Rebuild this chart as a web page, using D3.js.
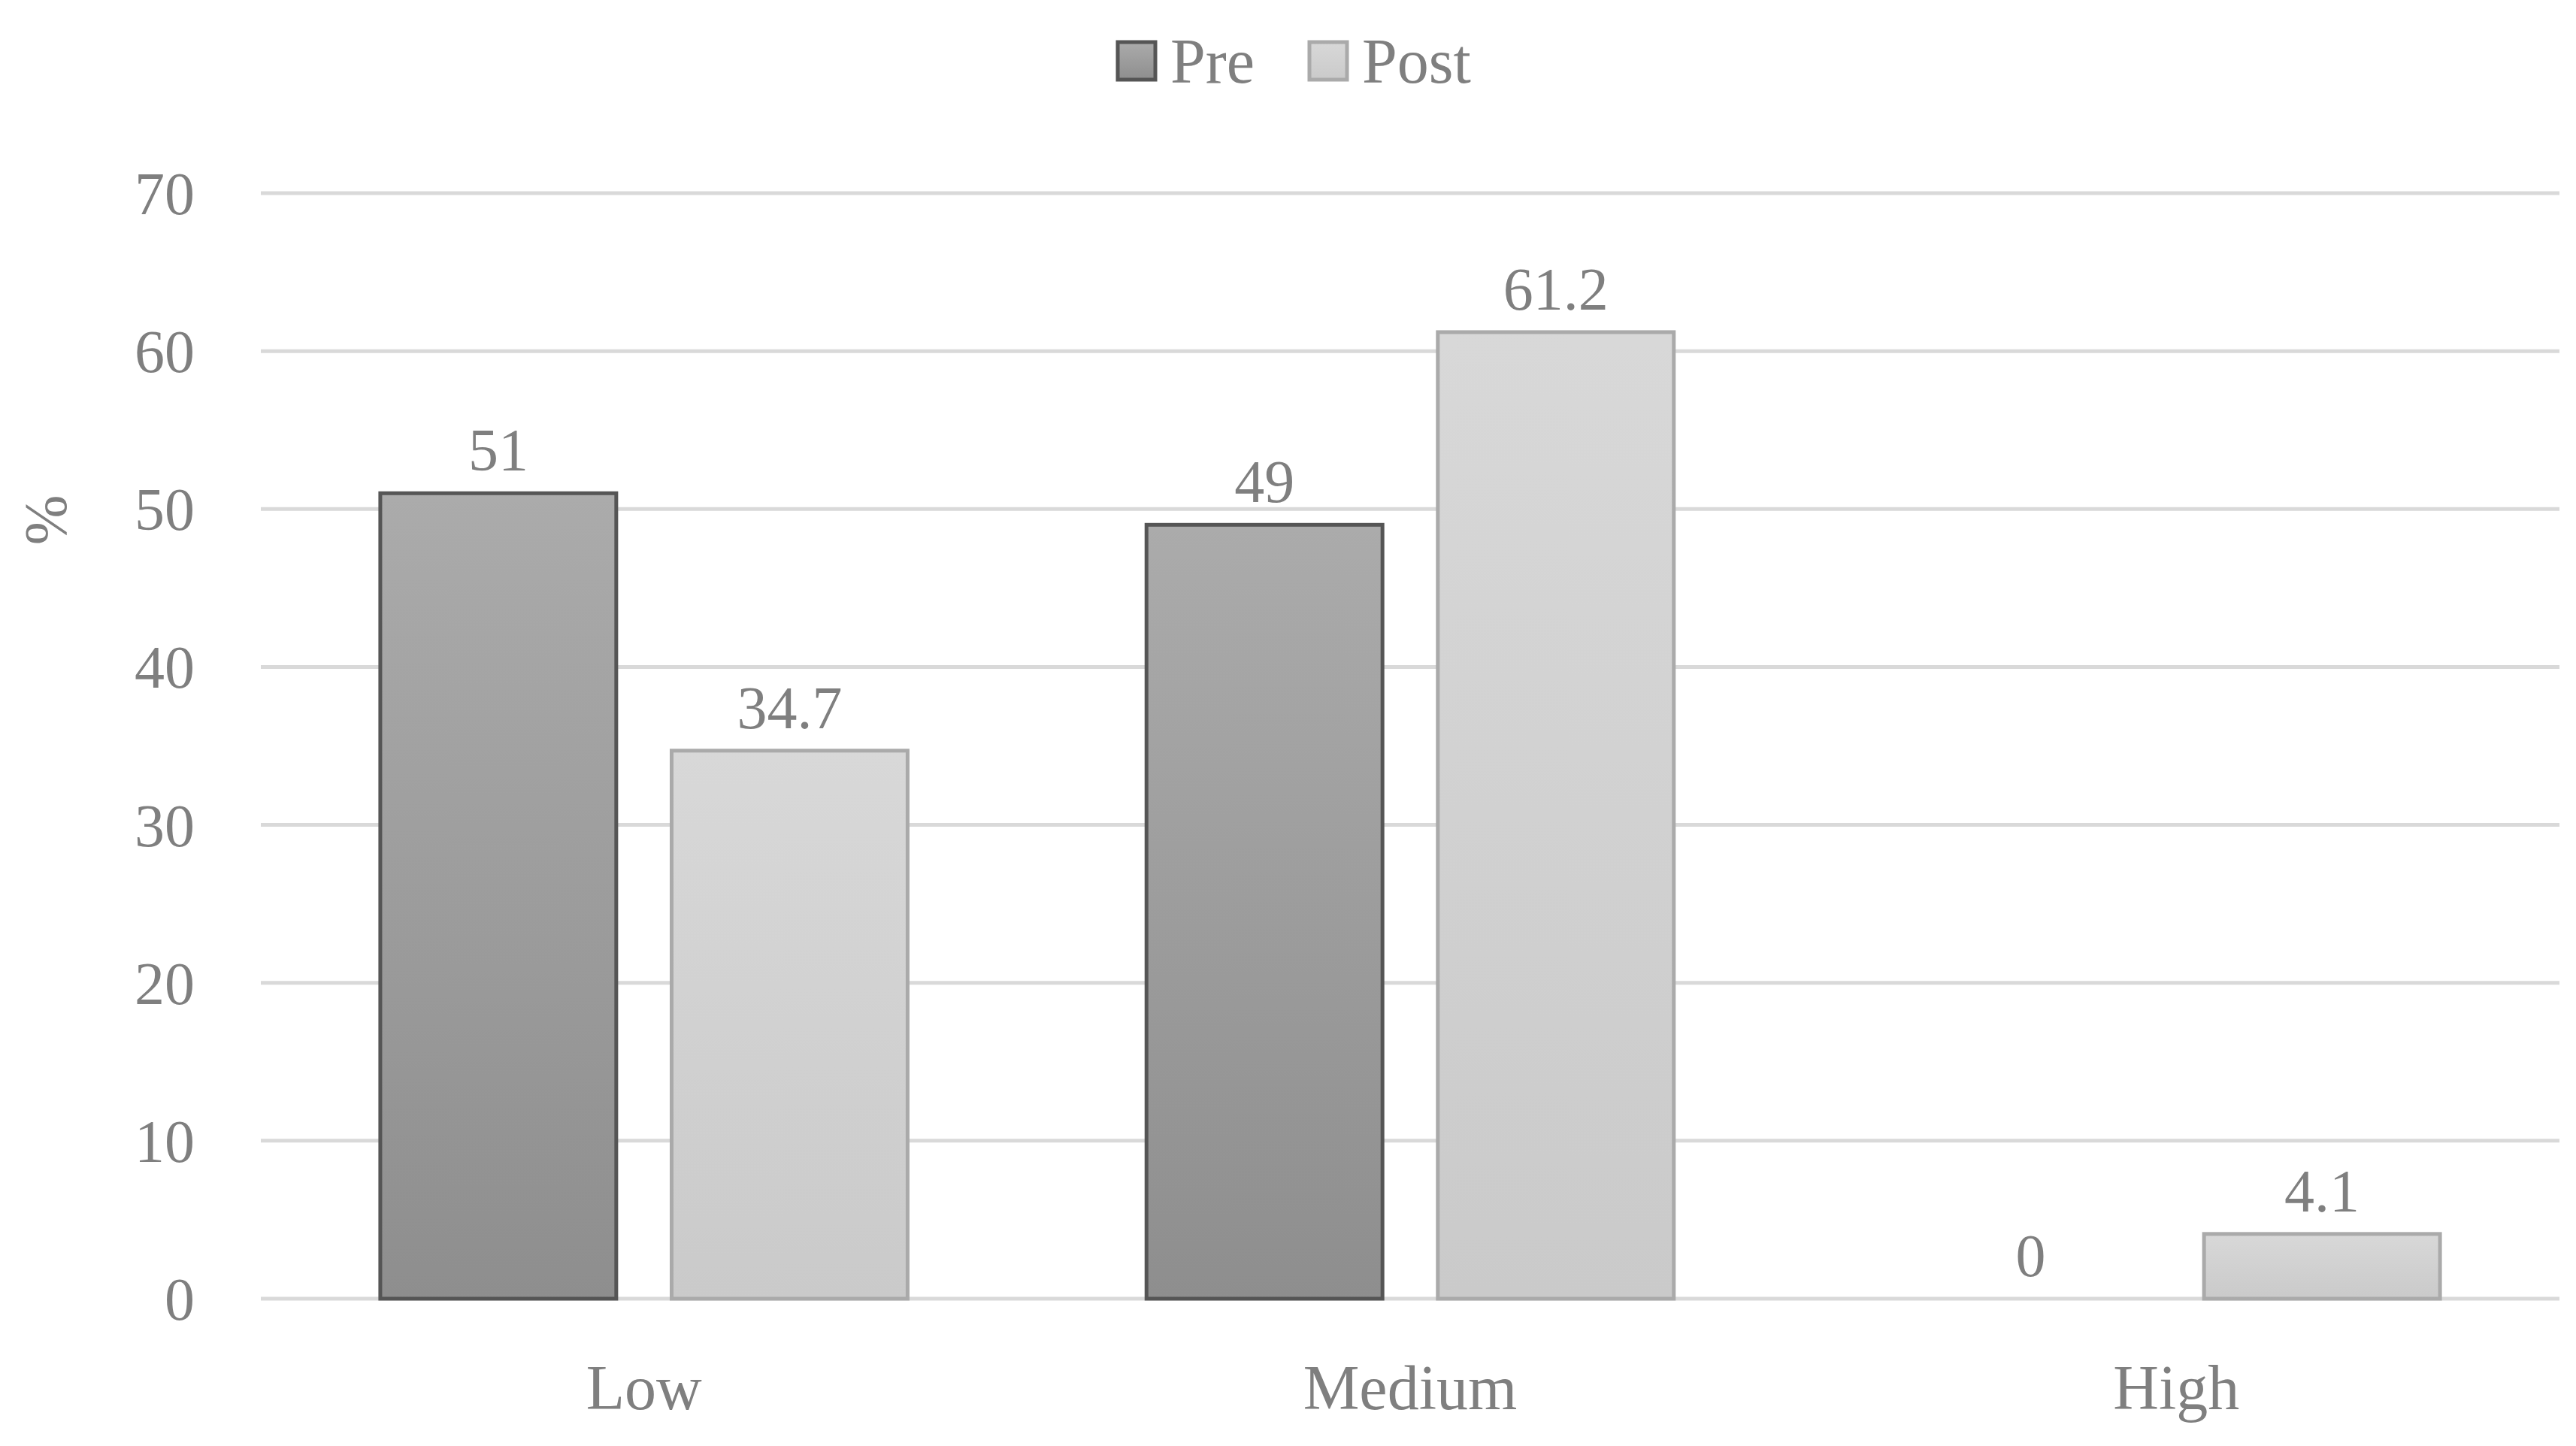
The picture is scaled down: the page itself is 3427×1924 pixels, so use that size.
<!DOCTYPE html>
<html><head><meta charset="utf-8">
<script src="https://cdn.jsdelivr.net/npm/d3@7"></script>
<style>body{margin:0;background:#fff}</style></head>
<body><svg id="c" width="3427" height="1924"></svg>
<script>
const categories = ["Low","Medium","High"];
const seriesNames = ["Pre","Post"];
const preValues = [51,49,0];
const postValues = [34.7,61.2,4.1];
const yTicks = [0,10,20,30,40,50,60,70];

const svg = d3.select("#c");
const font = "'Liberation Serif', serif";
const txt = "#7f7f7f";
const L=347,R=3405,T=257,B=1728;
const x = d3.scaleBand().domain(categories).range([L,R]);
const xs = d3.scaleBand().domain(seriesNames).range([0,x.bandwidth()]).paddingInner(0.19).paddingOuter(0.41);
const y = d3.scaleLinear().domain([0,70]).range([B,T]);

const defs = svg.append("defs");
function grad(id,a,b){const g=defs.append("linearGradient").attr("id",id).attr("x1",0).attr("x2",0).attr("y1",0).attr("y2",1);
 g.append("stop").attr("offset",0).attr("stop-color",a);g.append("stop").attr("offset",1).attr("stop-color",b);}
grad("gPre","#ababab","#8e8e8e"); grad("gPost","#d8d8d8","#cacaca");
const style={Pre:{fill:"url(#gPre)",stroke:"#555"},Post:{fill:"url(#gPost)",stroke:"#aaa"}};

svg.append("g").selectAll("line").data(yTicks).join("line")
 .attr("x1",L).attr("x2",R).attr("y1",d=>y(d)).attr("y2",d=>y(d))
 .attr("stroke","#d9d9d9").attr("stroke-width",5);

svg.append("g").selectAll("text").data(yTicks).join("text")
 .attr("x",259).attr("y",d=>y(d)).attr("dy","0.35em").attr("text-anchor","end")
 .attr("font-family",font).attr("font-size",80).attr("fill",txt).text(d=>d);

const rows=[];
categories.forEach((c,i)=>{rows.push({c,s:"Pre",v:preValues[i]});rows.push({c,s:"Post",v:postValues[i]});});
svg.append("g").selectAll("rect").data(rows.filter(d=>d.v>0)).join("rect")
 .attr("x",d=>x(d.c)+xs(d.s)).attr("width",xs.bandwidth())
 .attr("y",d=>y(d.v)).attr("height",d=>y(0)-y(d.v))
 .attr("fill",d=>style[d.s].fill).attr("stroke",d=>style[d.s].stroke).attr("stroke-width",5);

svg.append("g").selectAll("text").data(rows).join("text")
 .attr("x",d=>x(d.c)+xs(d.s)+xs.bandwidth()/2).attr("y",d=>y(d.v)-58)
 .attr("dy","0.35em").attr("text-anchor","middle").attr("font-family",font).attr("font-size",80).attr("fill",txt).text(d=>d.v);

svg.append("g").selectAll("text").data(categories).join("text")
 .attr("x",d=>x(d)+x.bandwidth()/2).attr("y",1875).attr("text-anchor","middle")
 .attr("font-family",font).attr("font-size",84).attr("fill",txt).text(d=>d);

svg.append("text").attr("transform","translate(88,692) rotate(-90)").attr("text-anchor","middle")
 .attr("font-family",font).attr("font-size",80).attr("fill",txt).text("%");

const lg=[{s:"Pre",x:1487},{s:"Post",x:1742}];
lg.forEach(d=>{
 svg.append("rect").attr("x",d.x).attr("y",56).attr("width",50).attr("height",50)
  .attr("fill",style[d.s].fill).attr("stroke",style[d.s].stroke).attr("stroke-width",5);
 svg.append("text").attr("x",d.x+70).attr("y",81).attr("dy","0.35em").attr("font-family",font)
  .attr("font-size",84).attr("fill",txt).text(d.s);
});
</script></body></html>
